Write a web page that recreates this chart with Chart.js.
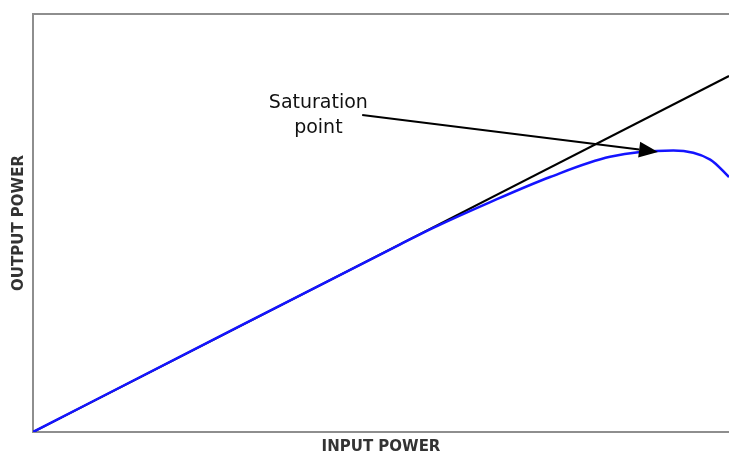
<!DOCTYPE html>
<html>
<head>
<meta charset="utf-8">
<script src="https://cdn.jsdelivr.net/npm/chart.js@4"></script>
<style>
  html, body { margin: 0; padding: 0; background: #fff; }
  #wrap { width: 729px; height: 454px; }
</style>
</head>
<body>
<div id="wrap"><canvas id="chart"></canvas></div>
<script>
// ideal (linear) response
const idealInput = [0, 10];
const idealOutput = [0, 5.11];

const inputPower = [0, 2.5, 5.27, 5.75, 6.57, 7.43, 8.29, 9.2, 9.73, 10];
const outputPower = [0, 1.28, 2.69, 2.93, 3.3, 3.66, 3.95, 4.04, 3.91, 3.66];

// annotation (data units)
const noteText = ['Saturation', 'point'];
const noteAt = { x: 4.1, y: 4.72 };
const arrowFrom = { x: 4.73, y: 4.55 };
const arrowTo = { x: 8.98, y: 4.02 };

const frame = '#8e8e8e';

const annotation = {
    id: 'annotation',
    afterDatasetsDraw(chart) {
        const {ctx, scales: {x, y}} = chart;
        const x1 = x.getPixelForValue(arrowFrom.x), y1 = y.getPixelForValue(arrowFrom.y);
        const x2 = x.getPixelForValue(arrowTo.x), y2 = y.getPixelForValue(arrowTo.y);
        const ang = Math.atan2(y2 - y1, x2 - x1);
        const len = 19, half = 8;
        const bx = x2 - len * Math.cos(ang), by = y2 - len * Math.sin(ang);
        ctx.save();
        ctx.strokeStyle = '#000';
        ctx.fillStyle = '#000';
        ctx.lineWidth = 2;
        ctx.beginPath();
        ctx.moveTo(x1, y1);
        ctx.lineTo(bx, by);
        ctx.stroke();
        ctx.beginPath();
        ctx.moveTo(x2, y2);
        ctx.lineTo(bx + half * Math.sin(ang), by - half * Math.cos(ang));
        ctx.lineTo(bx - half * Math.sin(ang), by + half * Math.cos(ang));
        ctx.closePath();
        ctx.fill();

        ctx.font = '19px "DejaVu Sans"';
        ctx.fillStyle = '#111';
        ctx.textAlign = 'center';
        ctx.textBaseline = 'middle';
        const tx = x.getPixelForValue(noteAt.x), ty = y.getPixelForValue(noteAt.y);
        noteText.forEach((t, i) => ctx.fillText(t, tx, ty + i * 25));
        ctx.restore();
    }
};

new Chart(document.getElementById('chart'), {
    type: 'line',
    data: {
        datasets: [{
            // first dataset is drawn on top
            data: inputPower.map((v, i) => ({x: v, y: outputPower[i]})),
            borderColor: '#1414ff',
            borderWidth: 2.5,
            pointRadius: 0,
            cubicInterpolationMode: 'monotone'
        }, {
            data: idealInput.map((v, i) => ({x: v, y: idealOutput[i]})),
            borderColor: '#000',
            borderWidth: 2,
            pointRadius: 0,
            tension: 0
        }]
    },
    options: {
        responsive: true,
        maintainAspectRatio: false,
        animation: false,
        events: [],
        plugins: {
            legend: { display: false },
            tooltip: { enabled: false }
        },
        scales: {
            x: {
                type: 'linear',
                min: 0,
                max: 10,
                grid: { display: false },
                ticks: { display: false },
                border: { display: true, color: frame, width: 2 },
                title: {
                    display: true,
                    text: 'INPUT POWER',
                    color: '#333',
                    font: { family: 'DejaVu Sans', size: 15, weight: 'bold', lineHeight: '13px' },
                    padding: { top: 0, bottom: 0 }
                },
                afterFit(scale) { scale.height = 22; }
            },
            x2: {
                type: 'linear',
                position: 'top',
                display: true,
                min: 0,
                max: 10,
                grid: { display: false },
                ticks: { display: false },
                border: { display: true, color: frame, width: 2 },
                afterFit(scale) { scale.height = 14; }
            },
            y: {
                min: 0,
                max: 6,
                grid: { display: false },
                ticks: { display: false },
                border: { display: true, color: frame, width: 2 },
                title: {
                    display: true,
                    text: 'OUTPUT POWER',
                    color: '#333',
                    font: { family: 'DejaVu Sans', size: 15, weight: 'bold', lineHeight: 1.2 },
                    padding: { top: 10, bottom: 0 }
                },
                afterFit(scale) { scale.width = 33; }
            }
        }
    },
    plugins: [annotation]
});
</script>
</body>
</html>
